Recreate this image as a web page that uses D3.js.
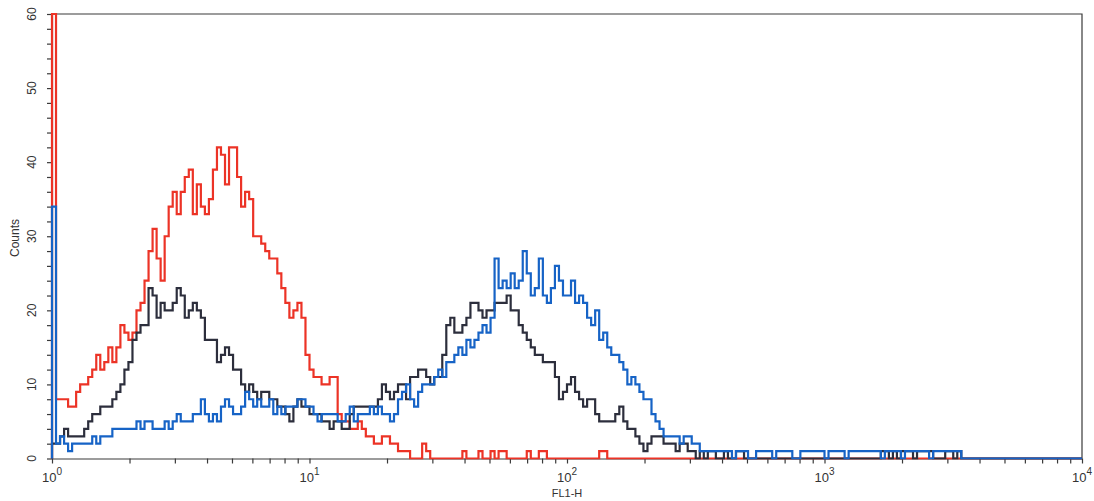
<!DOCTYPE html>
<html>
<head>
<meta charset="utf-8">
<script src="https://cdn.jsdelivr.net/npm/d3@7/dist/d3.min.js"></script>
<style>
  html, body { margin: 0; padding: 0; background: #ffffff; }
  svg { display: block; font-family: "Liberation Sans", Arial, sans-serif; }
</style>
</head>
<body>
<svg id="chart" width="1094" height="501"></svg>
<script>
// ---------------- DATA ----------------
const channelsPerDecade = 64;   // 256 channels over 4 decades
const xTickExponents = [0, 1, 2, 3, 4];
const yTickLabels = [0, 10, 20, 30, 40, 50, 60];
const xAxisTitle = "FL1-H";
const yAxisTitle = "Counts";

const redCounts = [
 60, 8, 8, 8, 7, 7, 9,10,10,11, 12,14,12,13,15,13,15,18,17,16,
 17,20,21,24,28,31,27,24,30,34, 36,33,36,38,39,33,37,34,33,35,
 39,42,41,37,42,42,38,34,36,35, 30,30,29,28,27,27,25,23,21,19,
 20,21,19,14,12,11,11,10,10,11, 11, 6, 5, 5, 4, 4, 5, 4, 3, 3,
  2, 2, 3, 3, 2, 2, 1, 1, 1, 0,  0, 0, 2, 1, 0, 0, 0, 0, 0, 0,
  0, 0, 1, 0, 0, 0, 1, 0, 0, 1,  0, 1, 1, 0, 0, 0, 0, 0, 1, 0,
  0, 1, 1, 0, 0, 0, 0, 0, 0, 0,  0, 0, 0, 0, 0, 0, 1, 1, 0, 0,
  0, 0, 0, 0, 0, 0, 0, 0, 0, 0,  0, 0, 0, 0, 0, 0, 0, 0, 0, 0,
  0, 0, 0, 0, 0, 0, 0, 0, 0, 0,  0, 0, 0, 0, 0, 0, 0, 0, 0, 0,
  0, 0, 0, 0, 0, 0, 0, 0, 0, 0,  0, 0, 0, 0, 0, 0, 0, 0, 0, 0,
  0, 0, 0, 0, 0, 0, 0, 0, 0, 0,  0, 0, 0, 0, 0, 0, 0, 0, 0, 0,
  0, 0, 0, 0, 0, 0, 0, 0, 0, 0,  0, 0, 0, 0, 0, 0, 0, 0, 0, 0,
  0, 0, 0, 0, 0, 0, 0, 0, 0, 0,  0, 0, 0, 0, 0, 0
];

const blackCounts = [
  2, 2, 3, 4, 3, 3, 3, 3, 4, 5,  6, 6, 7, 7, 7, 8, 9,10,12,13,
 16,17,18,18,23,22,19,21,20,20, 21,23,22,19,20,21,20,19,16,16,
 16,13,14,15,14,12,12,10, 9,10,  9, 8, 9, 9, 8, 8, 7, 7, 6, 5,
  7, 8, 7, 7, 6, 6, 6, 5, 5, 4,  5, 5, 4, 4, 6, 7, 7, 7, 7, 7,
  7, 8,10, 9, 8, 9,10,10, 8,11, 11,12,12,11,10,11,11,14,18,19,
 17,17,18,19,21,21,20,19,20,20, 21,21,21,22,20,20,18,17,16,15,
 14,14,13,13,13,11, 8, 9,10,11,  9, 8, 7, 8, 8, 6, 5, 5, 5, 5,
  6, 7, 5, 4, 4, 3, 2, 1, 2, 3,  3, 3, 2, 2, 2, 1, 2, 2, 1, 1,
  0, 1, 0, 1, 1, 0, 0, 1, 0, 0,  1, 1, 0, 0, 0, 0, 0, 0, 0, 0,
  0, 0, 0, 0, 0, 0, 0, 0, 0, 0,  0, 0, 0, 0, 0, 0, 0, 0, 0, 0,
  0, 0, 0, 0, 0, 0, 1, 1, 0, 1,  0, 1, 1, 1, 0, 1, 1, 1, 1, 0,
  0, 0, 1, 1, 0, 1, 0, 0, 0, 0,  0, 0, 0, 0, 0, 0, 0, 0, 0, 0,
  0, 0, 0, 0, 0, 0, 0, 0, 0, 0,  0, 0, 0, 0, 0, 0
];

const blueCounts = [
 34, 2, 3, 2, 1, 2, 2, 2, 2, 2,  3, 2, 3, 3, 3, 4, 4, 4, 4, 4,
  4, 5, 4, 5, 5, 4, 4, 4, 5, 4,  5, 6, 5, 5, 5, 6, 6, 8, 6, 5,
  6, 5, 7, 8, 7, 6, 6, 7, 9, 8,  7, 8, 7, 7, 8, 6, 7, 6, 7, 7,
  7, 8, 8, 7, 7, 6, 5, 6, 6, 6,  6, 5, 5, 6, 7, 5, 6, 6, 6, 7,
  6, 7, 6, 6, 5, 6, 8, 9,10, 8,  7, 9,10,10,10,11,12,11,13,13,
 14,15,14,16,15,16,17,18,17,19, 27,23,24,23,25,23,24,28,25,22,
 23,27,22,21,23,26,24,22,22,24, 21,22,21,19,18,20,16,17,15,14,
 14,13,12,10,11,10, 9, 8, 8, 6,  5, 4, 3, 3, 3, 3, 2, 3, 3, 2,
  2, 1, 1, 1, 1, 1, 1, 1, 1, 0,  1, 1, 1, 0, 0, 1, 1, 1, 1, 0,
  1, 1, 1, 1, 0, 0, 1, 1, 1, 1,  1, 1, 0, 1, 1, 1, 1, 0, 1, 1,
  1, 1, 1, 1, 1, 1, 0, 1, 1, 1,  1, 0, 1, 1, 1, 1, 1, 1, 0, 1,
  1, 1, 1, 1, 1, 1, 0, 0, 0, 0,  0, 0, 0, 0, 0, 0, 0, 0, 0, 0,
  0, 0, 0, 0, 0, 0, 0, 0, 0, 0,  0, 0, 0, 0, 0, 0
];

const seriesColors = { red: "#ec3326", black: "#2c2e3c", blue: "#1663c6" };

// ---------------- LAYOUT ----------------
const svg = d3.select("#chart");
const plotLeft = 52, plotRight = 1082, plotTop = 14, plotBottom = 458.5;

const x = d3.scaleLog().domain([1, 10000]).range([plotLeft, plotRight]);
const y = d3.scaleLinear().domain([0, 60]).range([plotBottom, plotTop]);

svg.append("defs").append("clipPath").attr("id", "plotclip")
  .append("rect").attr("x", plotLeft - 2).attr("y", plotTop - 1)
  .attr("width", plotRight - plotLeft + 2).attr("height", plotBottom - plotTop + 2);

// ---------------- AXES (drawn beneath the traces) ----------------
const xMinor = [];
for (let e = 0; e < 4; e++) for (let m = 1; m <= 9; m++) xMinor.push(m * Math.pow(10, e));
xMinor.push(10000);

const xAxis = svg.append("g").attr("transform", `translate(0,${plotBottom})`)
  .call(d3.axisBottom(x).tickValues(xMinor).tickSize(5).tickSizeOuter(0).tickFormat(""));
xAxis.select(".domain").attr("stroke", "#3a3a3a").attr("stroke-width", 1.2);
xAxis.selectAll(".tick line").attr("stroke", "#3a3a3a").attr("stroke-width", 1.2);

const yMinor = d3.range(0, 61, 2);
const yAxis = svg.append("g").attr("transform", `translate(${plotLeft},0)`)
  .call(d3.axisLeft(y).tickValues(yMinor).tickSize(5).tickSizeOuter(0).tickFormat(""));
yAxis.select(".domain").attr("stroke", "#3a3a3a").attr("stroke-width", 1.2);
yAxis.selectAll(".tick line").attr("stroke", "#3a3a3a").attr("stroke-width", 1.2);

// frame (top and right)
svg.append("path")
  .attr("d", `M${plotLeft},${plotTop}H${plotRight}V${plotBottom}`)
  .attr("fill", "none").attr("stroke", "#3a3a3a").attr("stroke-width", 1.2);

// ---------------- TRACES ----------------
// channel -> fluorescence value; histogram outline starts from the baseline
function toPoints(counts) {
  const pts = [[1, 0]];
  counts.forEach((c, i) => pts.push([Math.pow(10, i / channelsPerDecade), c]));
  pts.push([Math.pow(10, counts.length / channelsPerDecade), counts[counts.length - 1]]);
  return pts;
}

const line = d3.line()
  .x(d => x(d[0]))
  .y(d => y(d[1]))
  .curve(d3.curveStepAfter);

const plot = svg.append("g").attr("clip-path", "url(#plotclip)");

[["red", redCounts], ["black", blackCounts], ["blue", blueCounts]].forEach(([k, arr]) => {
  plot.append("path")
    .datum(toPoints(arr))
    .attr("d", line)
    .attr("fill", "none")
    .attr("stroke", seriesColors[k])
    .attr("stroke-width", 2.2)
    .attr("stroke-linejoin", "miter");
});

// ---------------- LABELS ----------------
xTickExponents.forEach(e => {
  const t = svg.append("text")
    .attr("x", x(Math.pow(10, e)))
    .attr("y", 482)
    .attr("text-anchor", "middle")
    .attr("font-size", 13)
    .attr("fill", "#333");
  t.append("tspan").text("10");
  t.append("tspan").attr("dy", -7).attr("font-size", 10).text(String(e));
});

yTickLabels.forEach(v => {
  svg.append("text")
    .attr("transform", `translate(36,${y(v)}) rotate(-90)`)
    .attr("text-anchor", "middle")
    .attr("font-size", 12)
    .attr("fill", "#333")
    .text(v);
});

svg.append("text")
  .attr("x", x(Math.pow(10, 2)))
  .attr("y", 497)
  .attr("text-anchor", "middle")
  .attr("font-size", 11)
  .attr("fill", "#333")
  .text(xAxisTitle);

svg.append("text")
  .attr("transform", `translate(19,238) rotate(-90)`)
  .attr("text-anchor", "middle")
  .attr("font-size", 12)
  .attr("fill", "#333")
  .text(yAxisTitle);
</script>
</body>
</html>
